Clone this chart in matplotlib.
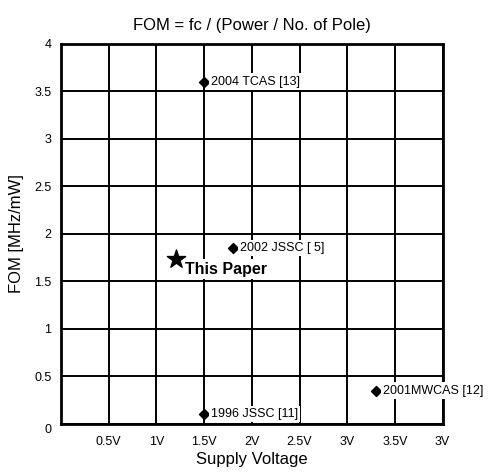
import matplotlib
matplotlib.use("Agg")
import matplotlib.pyplot as plt

plt.rcParams['font.family'] = ['Liberation Sans', 'DejaVu Sans']

# reference points
ref_names = ["2004 TCAS [13]", "2002 JSSC [ 5]", "1996 JSSC [11]", "2001MWCAS [12]"]
ref_v = [1.5, 1.8, 1.5, 3.3]
ref_fom = [3.6, 1.85, 0.1, 0.35]

# this work
this_v = [1.2]
this_fom = [1.73]

xtick_vals = [0.5, 1.0, 1.5, 2.0, 2.5, 3.0, 3.5, 4.0]
xtick_labels = ["0.5V", "1V", "1.5V", "2V", "2.5V", "3V", "3.5V", "3V"]
ytick_vals = [0, 0.5, 1, 1.5, 2, 2.5, 3, 3.5, 4]
ytick_labels = ["0", "0.5", "1", "1.5", "2", "2.5", "3", "3.5", "4"]

fig, ax = plt.subplots(figsize=(4.89, 4.73), dpi=100)
fig.subplots_adjust(left=0.125, right=0.905, top=0.908, bottom=0.104)

ax.set_xlim(0, 4)
ax.set_ylim(0, 4)
ax.set_xticks(xtick_vals)
ax.set_xticklabels(xtick_labels)
ax.set_yticks(ytick_vals)
ax.set_yticklabels(ytick_labels)
ax.tick_params(length=0, labelsize=9)
ax.tick_params(axis="x", pad=9)
ax.tick_params(axis="y", pad=7)
ax.get_yticklabels()[0].set_va("top")
ax.grid(True, color="black", linewidth=1.4, zorder=0)
ax.set_axisbelow(True)
for s in ax.spines.values():
    s.set_linewidth(2)

ax.scatter(ref_v, ref_fom, marker="D", s=26, color="black", zorder=3)
ax.scatter(this_v, this_fom, marker="*", s=190, color="black", zorder=3)

# labels (white boxes cover the grid like in the original)
box = dict(facecolor="white", edgecolor="none", pad=1.5)
for name, v, f in zip(ref_names, ref_v, ref_fom):
    ax.annotate(name, (v, f), xytext=(5, 0), textcoords="offset points",
                ha="left", va="center", fontsize=9, bbox=box, zorder=4)
ax.annotate("This Paper", (this_v[0], this_fom[0]), xytext=(7, -7),
            textcoords="offset points", ha="left", va="center",
            fontsize=11.5, fontweight="bold", bbox=box, zorder=4)

ax.set_title("FOM = fc / (Power / No. of Pole)", fontsize=12, pad=10)
ax.set_xlabel("Supply Voltage", fontsize=12, labelpad=3)
ax.set_ylabel("FOM [MHz/mW]", fontsize=12, labelpad=7)

plt.savefig("out.png", dpi=100)
